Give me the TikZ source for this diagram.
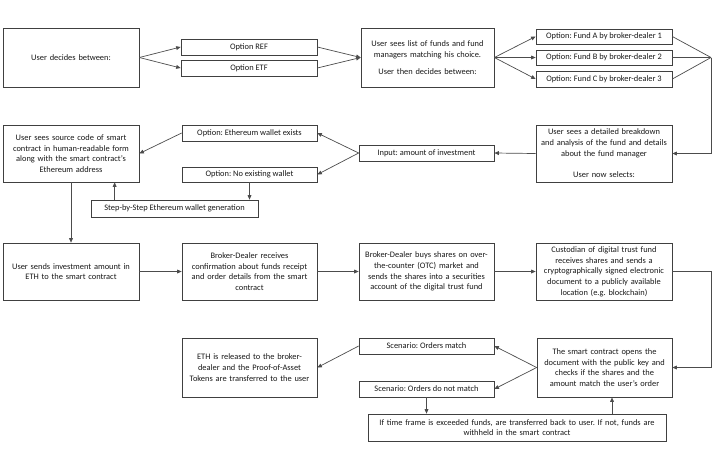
\documentclass[tikz,border=0pt]{standalone}
\usepackage{fontspec}
\setmainfont{Carlito}
\usetikzlibrary{arrows.meta}
\frenchspacing
\begin{document}
\begin{tikzpicture}[x=1pt,y=-1pt,
  box/.style={draw=black!75, line width=0.7pt, fill=white, align=center, inner sep=1pt,
    font=\fontsize{8.4}{10.7}\selectfont\frenchspacing, text=black!90},
  arr/.style={draw=black!70, line width=0.7pt, -{Triangle[length=4.5pt,width=3.8pt]}},
  ln/.style={draw=black!70, line width=0.7pt}]
\useasboundingbox (0,0) rectangle (720,451);
% row 1
\node[box, minimum width=136pt, minimum height=59pt, text width=130pt] (n1) at (71,57.5) {User decides between:};
\node[box, minimum width=136pt, minimum height=16pt] (ref) at (249,47) {Option REF};
\node[box, minimum width=136pt, minimum height=16pt] (etf) at (249,68) {Option ETF};
\node[box, minimum width=133pt, minimum height=59pt, text width=128pt] (list) at (427.5,57.5) {User sees list of funds and fund\\managers matching his choice.\\[6pt]User then decides between:};
\node[box, minimum width=136pt, minimum height=15pt] (fa) at (604,36.5) {Option: Fund A by broker-dealer 1};
\node[box, minimum width=136pt, minimum height=15pt] (fb) at (604,57.5) {Option: Fund B by broker-dealer 2};
\node[box, minimum width=136pt, minimum height=16pt] (fc) at (604,79) {Option: Fund C by broker-dealer 3};
\coordinate (J) at (711,57.5);
% row 2
\node[box, minimum width=136pt, minimum height=57pt, text width=134pt] (detail) at (604,153.5) {User sees a detailed breakdown\\and analysis of the fund and details\\about the fund manager\\[10.7pt]User now selects:};
\node[box, minimum width=135pt, minimum height=16pt] (input) at (426.5,153) {Input: amount of investment};
\node[box, minimum width=135pt, minimum height=16pt] (ewe) at (249.5,133) {Option: Ethereum wallet exists};
\node[box, minimum width=135pt, minimum height=15pt] (now) at (249.5,174.5) {Option: No existing wallet};
\node[box, minimum width=136pt, minimum height=57pt, text width=130pt] (src) at (71,153.5) {User sees source code of smart\\contract in human-readable form\\along with the smart contract’s\\Ethereum address};
\node[box, minimum width=167pt, minimum height=17pt] (step) at (174.5,208.5) {Step-by-Step Ethereum wallet generation};
% row 3
\node[box, minimum width=136pt, minimum height=57pt, text width=130pt] (send) at (71,271.5) {User sends investment amount in\\ETH to the smart contract};
\node[box, minimum width=135pt, minimum height=57pt, text width=130pt] (brec) at (249.5,271.5) {Broker-Dealer receives\\confirmation about funds receipt\\and order details from the smart\\contract};
\node[box, minimum width=135pt, minimum height=57pt, text width=132pt] (bbuy) at (426.5,271.5) {Broker-Dealer buys shares on over-\\the-counter (OTC) market and\\sends the shares into a securities\\account of the digital trust fund};
\node[box, minimum width=136pt, minimum height=57pt, text width=134pt] (cust) at (604,271.5) {Custodian of digital trust fund\\receives shares and sends a\\cryptographically signed electronic\\document to a publicly available\\location (e.g. blockchain)};
% row 4
\node[box, minimum width=135pt, minimum height=59pt, text width=132pt] (sc) at (604.5,367.5) {The smart contract opens the\\document with the public key and\\checks if the shares and the\\amount match the user’s order};
\node[box, minimum width=135pt, minimum height=16pt] (om) at (426.5,346) {Scenario: Orders match};
\node[box, minimum width=135pt, minimum height=16pt] (onm) at (426.5,389) {Scenario: Orders do not match};
\node[box, minimum width=135pt, minimum height=59pt, text width=130pt] (eth) at (249.5,367.5) {ETH is released to the broker-\\dealer and the Proof-of-Asset\\Tokens are transferred to the user};
\node[box, minimum width=298pt, minimum height=27pt, text width=294pt] (tf) at (517,427.5) {If time frame is exceeded funds, are transferred back to user. If not, funds are\\withheld in the smart contract};
% connectors row 1
\draw[arr] (n1.east) -- (ref.west);
\draw[arr] (n1.east) -- (etf.west);
\draw[arr] (ref.east) -- (list.west);
\draw[arr] (etf.east) -- (list.west);
\draw[arr] (list.east) -- (fa.west);
\draw[arr] (list.east) -- (fb.west);
\draw[arr] (list.east) -- (fc.west);
\draw[ln] (fa.east) -- (J);
\draw[ln] (fb.east) -- (J);
\draw[ln] (fc.east) -- (J);
\draw[arr] (J) |- (detail.east);
% row 2
\draw[arr] (detail.west) -- (input.east);
\draw[arr] (input.west) -- (ewe.east);
\draw[arr] (input.west) -- (now.east);
\draw[arr] (ewe.west) -- (src.east);
\draw[arr] (now.south) -- (now.south |- step.north);
\draw[arr] ([xshift=24pt]step.north west) -- ([xshift=24pt]step.north west |- src.south);
\draw[arr] (src.south) -- (send.north);
% row 3
\draw[arr] (send.east) -- (brec.west);
\draw[arr] (brec.east) -- (bbuy.west);
\draw[arr] (bbuy.east) -- (cust.west);
\draw[arr] (cust.east) -- (cust.east -| J) |- (sc.east);
% row 4
\draw[arr] (sc.west) -- (om.east);
\draw[arr] (sc.west) -- (onm.east);
\draw[arr] (om.west) -- (eth.east);
\draw[arr] (onm.south) -- (onm.south |- tf.north);
\draw[arr] ([xshift=95pt]tf.north) -- ([xshift=95pt]tf.north |- sc.south);
\end{tikzpicture}
\end{document}
